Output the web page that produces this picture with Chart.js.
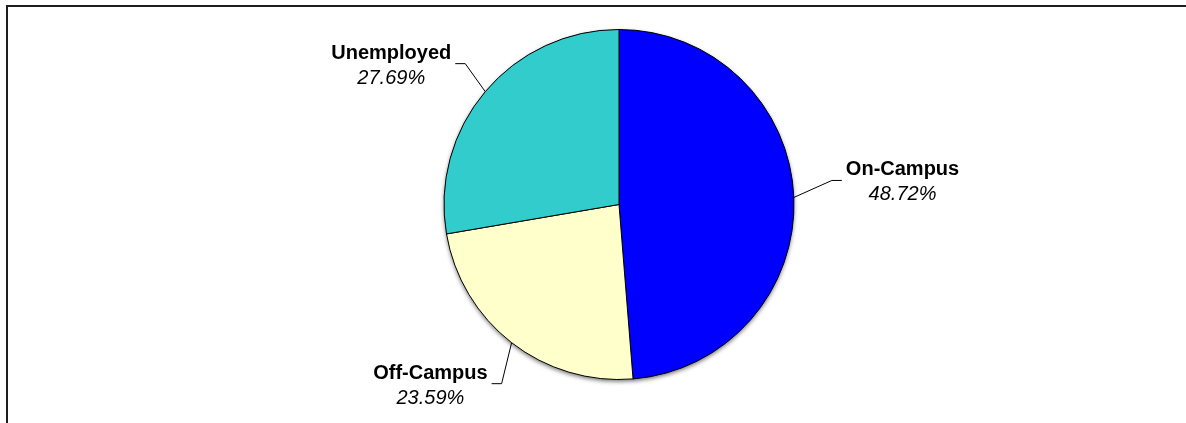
<!DOCTYPE html>
<html>
<head>
<meta charset="utf-8">
<script src="https://cdn.jsdelivr.net/npm/chart.js@4.4.0/dist/chart.umd.min.js"></script>
<style>
  html, body { margin: 0; padding: 0; background: #fff; overflow: hidden; }
  #frame {
    position: absolute; left: 6px; top: 5px; width: 1400px; height: 600px;
    border-top: 2px solid #1e1e1e; border-left: 2px solid #1e1e1e;
  }
  canvas { position: absolute; left: 0; top: 0; }
</style>
</head>
<body>
<div id="frame"></div>
<canvas id="pieChart" width="1186" height="423"></canvas>
<script>
// Employment status shares (%)
const categories = ["On-Campus", "Off-Campus", "Unemployed"];
const percentages = [48.72, 23.59, 27.69];
const sliceColors = ["#0000FF", "#FFFFCC", "#33CCCC"];

// leader line elbow offsets from the slice edge (dx, dy), per slice
const leaderElbows = [[38, -17], [-10, 41], [-20, -28]];

// soft shadow under the pie
const pieShadow = {
  id: "pieShadow",
  beforeDatasetsDraw(chart) {
    const arc = chart.getDatasetMeta(0).data[0];
    if (!arc) return;
    const ctx = chart.ctx;
    ctx.save();
    ctx.shadowColor = "rgba(0,0,0,0.55)";
    ctx.shadowBlur = 4;
    ctx.shadowOffsetY = 2;
    ctx.beginPath();
    ctx.arc(arc.x, arc.y, arc.outerRadius, 0, Math.PI * 2);
    ctx.fillStyle = "#777";
    ctx.fill();
    ctx.restore();
  }
};

// outside labels with leader lines
const outsideLabels = {
  id: "outsideLabels",
  afterDatasetsDraw(chart) {
    const ctx = chart.ctx;
    const meta = chart.getDatasetMeta(0);
    meta.data.forEach((arc, i) => {
      const p = arc.getProps(["x", "y", "startAngle", "endAngle", "outerRadius"], true);
      const mid = (p.startAngle + p.endAngle) / 2;
      const ax = p.x + Math.cos(mid) * p.outerRadius;
      const ay = p.y + Math.sin(mid) * p.outerRadius;
      const [dx, dy] = leaderElbows[i];
      const ex = ax + dx, ey = ay + dy;
      const dir = dx > 0 ? 1 : -1;
      const hx = ex + dir * 10;

      ctx.save();
      ctx.strokeStyle = "#000";
      ctx.lineWidth = 1;
      ctx.beginPath();
      ctx.moveTo(ax, ay);
      ctx.lineTo(ex, ey);
      ctx.lineTo(hx, ey);
      ctx.stroke();

      const name = categories[i];
      const pct = percentages[i].toFixed(2) + "%";
      ctx.font = "bold 20px 'Liberation Sans', Arial, sans-serif";
      const nameW = ctx.measureText(name).width;
      ctx.font = "italic 20px 'Liberation Sans', Arial, sans-serif";
      const pctW = ctx.measureText(pct).width;
      const blockW = Math.max(nameW, pctW);
      const cx = hx + dir * (4 + blockW / 2);

      ctx.fillStyle = "#000";
      ctx.textAlign = "center";
      ctx.textBaseline = "alphabetic";
      ctx.font = "bold 20px 'Liberation Sans', Arial, sans-serif";
      ctx.fillText(name, cx, ey - 5);
      ctx.font = "italic 20px 'Liberation Sans', Arial, sans-serif";
      ctx.fillText(pct, cx, ey + 20);
      ctx.restore();
    });
  }
};

new Chart(document.getElementById("pieChart").getContext("2d"), {
  type: "pie",
  data: {
    labels: categories,
    datasets: [{
      data: percentages,
      backgroundColor: sliceColors,
      borderColor: "#000",
      borderWidth: 1
    }]
  },
  options: {
    responsive: false,
    animation: false,
    layout: { padding: { left: 419, right: 367, top: 29, bottom: 43 } },
    plugins: {
      legend: { display: false },
      tooltip: { enabled: false }
    }
  },
  plugins: [pieShadow, outsideLabels]
});
</script>
</body>
</html>
